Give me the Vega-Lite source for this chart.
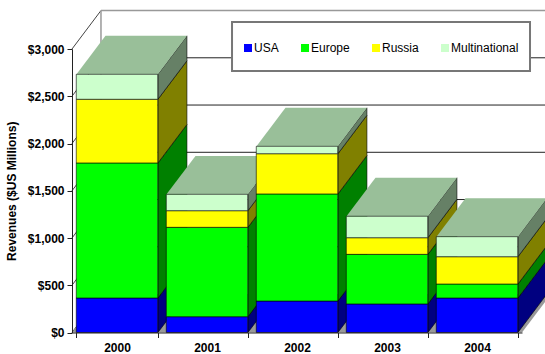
{
"$schema":"https://vega.github.io/schema/vega-lite/v6.json",
"width":450,"height":283.5,
"padding":{"left":72,"top":49,"right":23,"bottom":21.5},
"autosize":"none",
"background":"white",
"view":{"stroke":null},
"config":{"font":"Liberation Sans","axis":{"grid":false}},
"data":{"values":[
{"year":2000,"region":"USA","revenue":365},{"year":2000,"region":"Europe","revenue":1429},{"year":2000,"region":"Russia","revenue":674},{"year":2000,"region":"Multinational","revenue":264},
{"year":2001,"region":"USA","revenue":167},{"year":2001,"region":"Europe","revenue":946},{"year":2001,"region":"Russia","revenue":176},{"year":2001,"region":"Multinational","revenue":173},
{"year":2002,"region":"USA","revenue":333},{"year":2002,"region":"Europe","revenue":1133},{"year":2002,"region":"Russia","revenue":426},{"year":2002,"region":"Multinational","revenue":78},
{"year":2003,"region":"USA","revenue":302},{"year":2003,"region":"Europe","revenue":525},{"year":2003,"region":"Russia","revenue":176},{"year":2003,"region":"Multinational","revenue":227},
{"year":2004,"region":"USA","revenue":365},{"year":2004,"region":"Europe","revenue":148},{"year":2004,"region":"Russia","revenue":289},{"year":2004,"region":"Multinational","revenue":212}
]},
"transform":[
{"stack":"revenue","groupby":["year"],"as":["y0","y1"]},
{"calculate":"datum.year-2000","as":"idx"}
],
"resolve":{"scale":{"x":"independent","color":"independent"}},
"layer":[
{"layer":[
{"data":{"values":[{"level":500},{"level":1000},{"level":1500},{"level":2000},{"level":2500}]},
 "transform":[{"calculate":"datum.level+407","as":"back"}],
 "mark":{"type":"rule","color":"#222222","strokeWidth":1},
 "encoding":{
  "x":{"datum":0.322,"type":"quantitative","scale":{"domain":[0,5],"nice":false},"axis":null},
  "x2":{"datum":5.322},
  "y":{"field":"back","type":"quantitative","scale":{"domain":[0,3000],"nice":false}}}},
{"data":{"values":[{}]},
 "mark":{"type":"rect","fill":"white","stroke":"#777777","strokeWidth":2},
 "encoding":{
  "x":{"datum":1.778,"type":"quantitative","scale":{"domain":[0,5],"nice":false},"axis":null},
  "x2":{"datum":5.089},
  "y":{"datum":3286,"type":"quantitative","scale":{"domain":[0,3000],"nice":false}},
  "y2":{"datum":2767}}},
{"data":{"values":[{"level":0},{"level":500},{"level":1000},{"level":1500},{"level":2000},{"level":2500},{"level":3000}]},
 "transform":[{"calculate":"datum.level+407","as":"back"}],
 "mark":{"type":"rule","color":"#444444","strokeWidth":1},
 "encoding":{
  "x":{"datum":0,"type":"quantitative","scale":{"domain":[0,5],"nice":false},"axis":null},
  "x2":{"datum":0.322},
  "y":{"field":"level","type":"quantitative","scale":{"domain":[0,3000],"nice":false}},
  "y2":{"field":"back"}}},
{"data":{"values":[{}]},
 "mark":{"type":"rule","color":"#999999","strokeWidth":1.5},
 "encoding":{
  "x":{"datum":0.322,"type":"quantitative","scale":{"domain":[0,5],"nice":false},"axis":null},
  "x2":{"datum":5.322},
  "y":{"datum":3407,"type":"quantitative","scale":{"domain":[0,3000],"nice":false}}}},
{"data":{"values":[{}]},
 "mark":{"type":"rule","color":"#999999","strokeWidth":1.5},
 "encoding":{
  "x":{"datum":0.322,"type":"quantitative","scale":{"domain":[0,5],"nice":false},"axis":null},
  "y":{"datum":407,"type":"quantitative","scale":{"domain":[0,3000],"nice":false}},
  "y2":{"datum":3407}}},
{"data":{"values":[{"floorLeft":0,"floorRight":5}]},
 "transform":[{"calculate":"[0,1]","as":"t"},{"flatten":["t"]},{"calculate":"datum.floorLeft+datum.t*0.322","as":"lx"},{"calculate":"datum.floorRight+datum.t*0.322","as":"rx"},{"calculate":"datum.t*407","as":"py"}],
 "mark":{"type":"area","orient":"horizontal","fill":"#999999"},
 "encoding":{
  "y":{"field":"py","type":"quantitative","stack":null,"scale":{"domain":[0,3000],"nice":false}},
  "x":{"field":"lx","type":"quantitative","stack":null,"scale":{"domain":[0,5],"nice":false},"axis":null},
  "x2":{"field":"rx"}}},
{"transform":[
 {"calculate":"[0,1]","as":"t"},{"flatten":["t"]},
 {"calculate":"datum.idx+0.955+datum.t*0.322","as":"sx"},
 {"calculate":"datum.y0+datum.t*407","as":"lo"},
 {"calculate":"datum.y1+datum.t*407","as":"hi"}],
 "mark":{"type":"area","stroke":"black","strokeWidth":0.6},
 "encoding":{
  "x":{"field":"sx","type":"quantitative","scale":{"domain":[0,5],"nice":false},"axis":null},
  "y":{"field":"lo","type":"quantitative","stack":null,"scale":{"domain":[0,3000],"nice":false}},
  "y2":{"field":"hi"},
  "detail":{"field":"year"},
  "color":{"field":"region","type":"nominal","legend":null,"scale":{"domain":["USA","Europe","Russia","Multinational"],"range":["#000080","#008000","#808000","#668066"]}}}},
{"transform":[
 {"filter":"datum.region==='Multinational'"},
 {"calculate":"[0,1]","as":"t"},{"flatten":["t"]},
 {"calculate":"datum.idx+0.05+datum.t*0.322","as":"lx"},
 {"calculate":"datum.idx+0.955+datum.t*0.322","as":"rx"},
 {"calculate":"datum.y1+datum.t*407","as":"ty"}],
 "mark":{"type":"area","orient":"horizontal","fill":"#99bf99"},
 "encoding":{
  "y":{"field":"ty","type":"quantitative","stack":null,"scale":{"domain":[0,3000],"nice":false}},
  "x":{"field":"lx","type":"quantitative","stack":null,"scale":{"domain":[0,5],"nice":false},"axis":null},
  "x2":{"field":"rx"},
  "detail":{"field":"year"}}}
]},
{"mark":{"type":"bar","stroke":"black","strokeWidth":0.6},
 "encoding":{
  "x":{"field":"year","type":"ordinal","scale":{"paddingInner":0.095,"paddingOuter":0.0475},
   "axis":{"title":null,"labelAngle":0,"tickBand":"extent","labelFontWeight":"bold","labelFontSize":12,"labelColor":"black","labelPadding":5,"tickColor":"#222222","domainColor":"#222222","tickSize":5,"zindex":1}},
  "y":{"field":"y1","type":"quantitative","scale":{"domain":[0,3000],"nice":false},
   "axis":{"title":"Revenues ($US Millions)","values":[0,500,1000,1500,2000,2500,3000],"format":"$,.0f","grid":false,"labelFontWeight":"bold","labelFontSize":12,"labelColor":"black","labelPadding":3,"titleFontSize":12,"titleFontWeight":"bold","titleColor":"black","titlePadding":9,"tickColor":"#222222","domainColor":"#222222","tickSize":5,"zindex":1}},
  "y2":{"field":"y0"},
  "color":{"field":"region","type":"nominal","scale":{"domain":["USA","Europe","Russia","Multinational"],"range":["#0000ff","#00ff00","#ffff00","#ccffcc"]},
   "legend":{"title":null,"orient":"none","legendX":170,"legendY":-7,"direction":"horizontal","columns":4,"symbolType":"square","symbolSize":64,"symbolStrokeWidth":0,"labelFontSize":12,"labelColor":"black","columnPadding":20,"labelOffset":0,"zindex":1}}}}
]
}
